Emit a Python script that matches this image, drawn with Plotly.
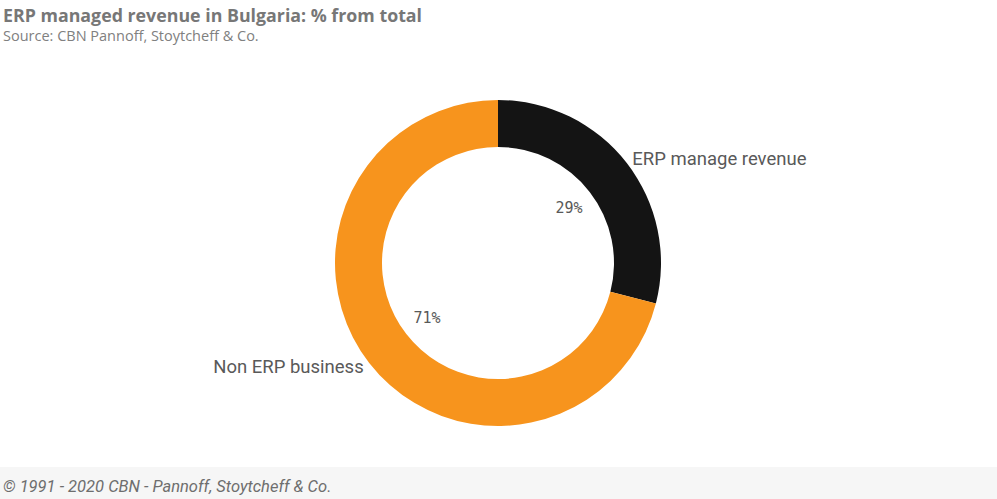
import plotly.graph_objects as go

# ── Data ──────────────────────────────────────────────────────────────────────
labels = ["ERP manage revenue", "Non ERP business"]
shares = [29, 71]
colors = ["#141414", "#F7941D"]

TITLE = "ERP managed revenue in Bulgaria: % from total"
SUBTITLE = "Source: CBN Pannoff, Stoytcheff & Co."
FOOTER = "© 1991 - 2020 CBN - Pannoff, Stoytcheff & Co."

W, H = 997, 499
FONT = "Roboto, 'Open Sans', sans-serif"
HEAD_FONT = "'Open Sans', Roboto, sans-serif"

# ring geometry (pixels)
cx, cy = 498, 236          # centre, y measured from bottom
r_out, r_in = 163, 116


def dom(r):
    return dict(x=[(cx - r) / W, (cx + r) / W], y=[(cy - r) / H, (cy + r) / H])


fig = go.Figure()

# main donut with outside labels
fig.add_trace(go.Pie(
    labels=labels,
    values=shares,
    marker=dict(colors=colors, line=dict(width=0)),
    hole=r_in / r_out,
    sort=False,
    direction="clockwise",
    rotation=0,
    textinfo="label",
    textposition="outside",
    outsidetextfont=dict(size=18.5, color="#595959", family=FONT),
    domain=dom(r_out),
    hoverinfo="skip",
    showlegend=False,
))

# transparent inner ring only used to place the % labels inside the hole
fig.add_trace(go.Pie(
    labels=labels,
    values=shares,
    marker=dict(colors=["rgba(0,0,0,0)"] * 2, line=dict(width=0)),
    hole=0.55,
    sort=False,
    direction="clockwise",
    rotation=0,
    texttemplate="%{value}%",
    textposition="inside",
    insidetextorientation="horizontal",
    insidetextfont=dict(size=15, color="#595959", family="'DejaVu Sans Mono', monospace"),
    domain=dom(r_in),
    hoverinfo="skip",
    showlegend=False,
))

fig.update_layout(
    width=W,
    height=H,
    margin=dict(l=0, r=0, t=0, b=0),
    paper_bgcolor="#ffffff",
    plot_bgcolor="#ffffff",
    font=dict(family=FONT, color="#595959"),
    shapes=[dict(type="rect", xref="paper", yref="paper", x0=0, x1=1, y0=0, y1=32 / H,
                 fillcolor="#f6f6f6", line=dict(width=0), layer="below")],
    annotations=[
        dict(text="<b>" + TITLE + "</b>", x=0.001, y=1 - 1 / H, xref="paper", yref="paper",
             xanchor="left", yanchor="top", showarrow=False,
             font=dict(size=17.8, color="#777777", family=HEAD_FONT)),
        dict(text=SUBTITLE, x=0.001, y=1 - 24 / H, xref="paper", yref="paper",
             xanchor="left", yanchor="top", showarrow=False,
             font=dict(size=14.5, color="#808080", family=HEAD_FONT)),
        dict(text="<i>" + FOOTER + "</i>", x=0.001, y=13 / H, xref="paper", yref="paper",
             xanchor="left", yanchor="middle", showarrow=False,
             font=dict(size=16.5, color="#6e6e6e", family=FONT)),
    ],
)

# drop the browser's default body margin so the figure sits at (0, 0)
fig.write_html("out.html", config={"displayModeBar": False},
               post_script="document.body.style.margin='0';")
